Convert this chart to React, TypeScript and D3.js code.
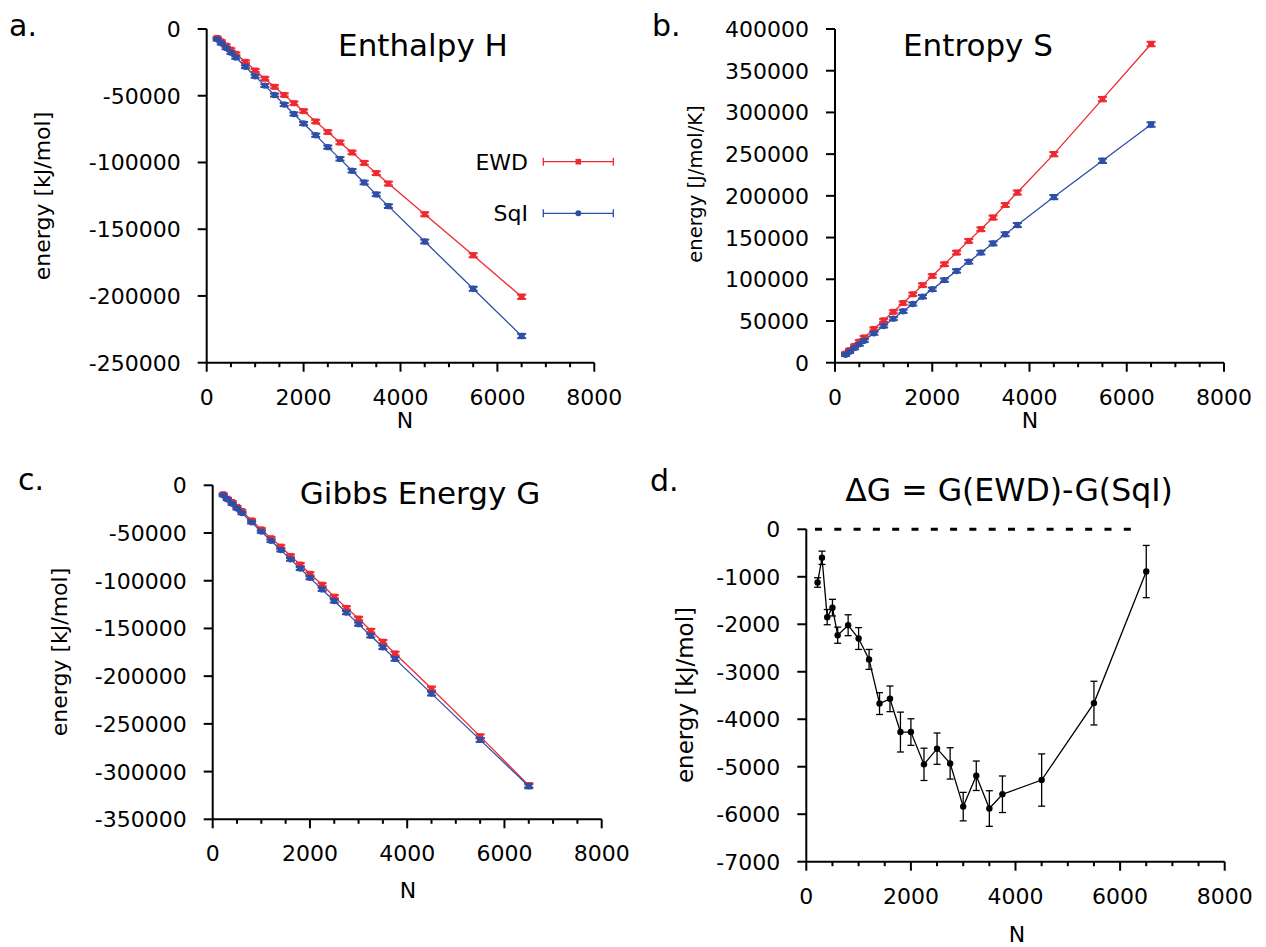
import React from 'react';
import * as d3 from 'd3';

// ---------- data ----------
const N = [216, 300, 400, 500, 600, 800, 1000, 1200, 1400, 1600, 1800, 2000, 2250, 2500, 2750, 3000, 3250, 3500, 3750, 4500, 5500, 6500];

// Enthalpy H [kJ/mol]
const H_EWD = [-6700, -9300, -12400, -15500, -18600, -24600, -31100, -37200, -43300, -49400, -55600, -61500, -69300, -77200, -85000, -92500, -100300, -108000, -115800, -138800, -169500, -200600];
const H_SQI = [-7700, -10700, -14200, -17700, -21300, -28300, -35400, -42400, -49500, -56600, -63700, -70800, -79600, -88500, -97300, -106200, -115000, -123900, -132700, -159200, -194600, -230000];
const H_ERR = [900, 900, 950, 1000, 1000, 1050, 1100, 1100, 1150, 1150, 1200, 1200, 1250, 1250, 1300, 1300, 1350, 1350, 1400, 1450, 1500, 1600];

// Entropy S [J/mol/K]
const S_EWD = [10900, 15100, 20100, 25200, 30300, 40500, 50800, 61000, 71500, 82000, 93000, 104000, 118000, 132000, 146000, 160000, 174000, 189000, 204000, 250000, 316000, 382000];
const S_SQI = [9500, 13200, 17600, 22000, 26400, 35200, 44000, 52800, 61600, 70400, 79200, 88000, 99000, 110000, 121000, 132000, 143000, 154000, 165000, 198500, 242000, 285500];
const S_ERR = [1500, 1500, 1600, 1600, 1700, 1700, 1800, 1800, 1900, 1900, 2000, 2000, 2100, 2100, 2200, 2200, 2300, 2300, 2400, 2500, 2600, 2700];

// Gibbs energy G [kJ/mol]
const G_EWD = [-9380, -14000, -17550, -22650, -26870, -36780, -46200, -55460, -64230, -74030, -83030, -92730, -104150, -116680, -128470, -139660, -152410, -163920, -176320, -213020, -263140, -314410];
const G_SQI = [-10500, -14600, -19400, -24300, -29100, -38800, -48500, -58200, -67900, -77600, -87300, -97000, -109100, -121300, -133400, -145500, -157600, -169800, -181900, -218300, -266800, -315300];
const G_ERR = [1000, 1050, 1100, 1150, 1200, 1250, 1300, 1350, 1400, 1450, 1500, 1550, 1600, 1650, 1700, 1750, 1800, 1850, 1900, 2000, 2100, 2200];

// Delta G [kJ/mol]
const DG = [-1120, -600, -1850, -1650, -2230, -2020, -2300, -2740, -3670, -3570, -4270, -4270, -4950, -4620, -4930, -5840, -5190, -5880, -5580, -5280, -3660, -890];
const DG_ERR = [100, 140, 160, 175, 170, 220, 230, 210, 230, 270, 420, 280, 340, 330, 330, 300, 310, 375, 385, 550, 460, 550];
const ZERO_LINE_N = [166, 6250];

const X_TICKS = [0, 2000, 4000, 6000, 8000];
const X_MINOR = d3.range(0, 8001, 500);
const YA_TICKS = [0, -50000, -100000, -150000, -200000, -250000];
const YB_TICKS = [0, 50000, 100000, 150000, 200000, 250000, 300000, 350000, 400000];
const YC_TICKS = [0, -50000, -100000, -150000, -200000, -250000, -300000, -350000];
const YD_TICKS = [0, -1000, -2000, -3000, -4000, -5000, -6000, -7000];

const SERIES_NAMES = ['EWD', 'SqI'];

const RED = '#ee2a31';
const BLUE = '#2f4ea6';
const FONT = '"DejaVu Sans", Verdana, sans-serif';

type Scale = d3.ScaleLinear<number, number>;

function Axes({ x, y, yTicks }: { x: Scale; y: Scale; yTicks: number[] }) {
  const [dMin, dMax] = y.domain();
  const x0 = x(0);
  const yb = y(dMin);
  return (
    <g>
      <line x1={x0} x2={x0} y1={y(dMax)} y2={yb} stroke="#000" strokeWidth={2} />
      <line x1={x0} x2={x(8000)} y1={yb} y2={yb} stroke="#000" strokeWidth={2} />
      {yTicks.map((t) => (
        <g key={'y' + t}>
          <line x1={x0 - 9} x2={x0} y1={y(t)} y2={y(t)} stroke="#000" strokeWidth={2} />
          <text x={x0 - 26} y={y(t) + 8} textAnchor="end" fontSize={22} fontFamily={FONT}>{t}</text>
        </g>
      ))}
      {X_MINOR.map((t) => (
        <line key={'xm' + t} x1={x(t)} x2={x(t)} y1={yb} y2={yb + (t % 2000 === 0 ? 9 : 4.5)} stroke="#000" strokeWidth={2} />
      ))}
      {X_TICKS.map((t) => (
        <text key={'xt' + t} x={x(t)} y={yb + 42} textAnchor="middle" fontSize={22} fontFamily={FONT}>{t}</text>
      ))}
    </g>
  );
}

function Series({ x, y, vals, errs, color, shape, cap = 4.5, r = 3, lw = 1.3, elw = 2 }:
  { x: Scale; y: Scale; vals: number[]; errs: number[]; color: string; shape: 'square' | 'circle'; cap?: number; r?: number; lw?: number; elw?: number }) {
  const line = d3.line<number>().x((_, i) => x(N[i])).y((v) => y(v));
  return (
    <g>
      <path d={line(vals) || ''} fill="none" stroke={color} strokeWidth={lw} />
      {vals.map((v, i) => {
        const cx = x(N[i]);
        const lo = y(v - errs[i]);
        const hi = y(v + errs[i]);
        return (
          <g key={i}>
            <line x1={cx} x2={cx} y1={lo} y2={hi} stroke={color} strokeWidth={elw} />
            <line x1={cx - cap} x2={cx + cap} y1={lo} y2={lo} stroke={color} strokeWidth={elw} />
            <line x1={cx - cap} x2={cx + cap} y1={hi} y2={hi} stroke={color} strokeWidth={elw} />
            {shape === 'square'
              ? <rect x={cx - r} y={y(v) - r} width={2 * r} height={2 * r} fill={color} />
              : <circle cx={cx} cy={y(v)} r={r} fill={color} />}
          </g>
        );
      })}
    </g>
  );
}

function Txt({ x, y, size, children, anchor = 'middle', rotate = false }:
  { x: number; y: number; size: number; children: React.ReactNode; anchor?: string; rotate?: boolean }) {
  return (
    <text x={rotate ? 0 : x} y={rotate ? 0 : y} fontSize={size} fontFamily={FONT} textAnchor={anchor as any}
      transform={rotate ? `translate(${x},${y}) rotate(-90)` : undefined}>{children}</text>
  );
}

export default function App() {
  // panel scales
  const xa = d3.scaleLinear().domain([0, 8000]).range([206.7, 594.3]);
  const ya = d3.scaleLinear().domain([-250000, 0]).range([362.7, 29]);
  const xb = d3.scaleLinear().domain([0, 8000]).range([835, 1224]);
  const yb = d3.scaleLinear().domain([0, 400000]).range([362.7, 29]);
  const xc = d3.scaleLinear().domain([0, 8000]).range([212.7, 601.7]);
  const yc = d3.scaleLinear().domain([-350000, 0]).range([819.3, 485.3]);
  const xd = d3.scaleLinear().domain([0, 8000]).range([806.3, 1224.7]);
  const yd = d3.scaleLinear().domain([-7000, 0]).range([861.7, 529.3]);

  return (
    <svg width={1266} height={947} style={{ position: 'absolute', left: 0, top: 0, background: '#fff' }}>
      <rect width={1266} height={947} fill="#fff" />

      {/* panel a */}
      <Txt x={9} y={36} size={30} anchor="start">a.</Txt>
      <Txt x={423} y={56} size={31}>Enthalpy H</Txt>
      <Txt x={50} y={196} size={22} rotate>energy [kJ/mol]</Txt>
      <Txt x={405} y={428} size={22}>N</Txt>
      <Axes x={xa} y={ya} yTicks={YA_TICKS} />
      <Series x={xa} y={ya} vals={H_EWD} errs={H_ERR} color={RED} shape="square" />
      <Series x={xa} y={ya} vals={H_SQI} errs={H_ERR} color={BLUE} shape="circle" r={3.2} />
      {/* legend */}
      {SERIES_NAMES.map((name, i) => {
        const ly = 161.7 + i * 51.6;
        const color = i === 0 ? RED : BLUE;
        return (
          <g key={name}>
            <Txt x={528} y={ly + 8} size={22} anchor="end">{name}</Txt>
            <line x1={543.3} x2={613.3} y1={ly} y2={ly} stroke={color} strokeWidth={1.3} />
            <line x1={543.3} x2={543.3} y1={ly - 4} y2={ly + 4} stroke={color} strokeWidth={1.3} />
            <line x1={613.3} x2={613.3} y1={ly - 4} y2={ly + 4} stroke={color} strokeWidth={1.3} />
            {i === 0
              ? <rect x={578.3 - 2.8} y={ly - 2.8} width={5.6} height={5.6} fill={color} />
              : <circle cx={578.3} cy={ly} r={3} fill={color} />}
          </g>
        );
      })}

      {/* panel b */}
      <Txt x={652} y={36} size={30} anchor="start">b.</Txt>
      <Txt x={978} y={56} size={31}>Entropy S</Txt>
      <Txt x={702} y={184} size={19.5} rotate>energy [J/mol/K]</Txt>
      <Txt x={1030} y={428} size={22}>N</Txt>
      <Axes x={xb} y={yb} yTicks={YB_TICKS} />
      <Series x={xb} y={yb} vals={S_EWD} errs={S_ERR} color={RED} shape="square" />
      <Series x={xb} y={yb} vals={S_SQI} errs={S_ERR} color={BLUE} shape="circle" r={3.2} />

      {/* panel c */}
      <Txt x={18} y={490} size={30} anchor="start">c.</Txt>
      <Txt x={420} y={504} size={31}>Gibbs Energy G</Txt>
      <Txt x={67} y={652} size={22} rotate>energy [kJ/mol]</Txt>
      <Txt x={408} y={898} size={22}>N</Txt>
      <Axes x={xc} y={yc} yTicks={YC_TICKS} />
      <Series x={xc} y={yc} vals={G_EWD} errs={G_ERR} color={RED} shape="square" />
      <Series x={xc} y={yc} vals={G_SQI} errs={G_ERR} color={BLUE} shape="circle" r={3.2} />

      {/* panel d */}
      <Txt x={650} y={491} size={30} anchor="start">d.</Txt>
      <Txt x={1009} y={501} size={31.5}>ΔG = G(EWD)-G(SqI)</Txt>
      <Txt x={693} y={695} size={23} rotate>energy [kJ/mol]</Txt>
      <Txt x={1017} y={942} size={22}>N</Txt>
      <Axes x={xd} y={yd} yTicks={YD_TICKS} />
      <line x1={xd(ZERO_LINE_N[0])} x2={xd(ZERO_LINE_N[1])} y1={yd(0)} y2={yd(0)} stroke="#000" strokeWidth={3} strokeDasharray="7 12.3" />
      <Series x={xd} y={yd} vals={DG} errs={DG_ERR} color="#000" shape="circle" cap={3.5} r={3.2} lw={1.3} elw={1.3} />
    </svg>
  );
}
